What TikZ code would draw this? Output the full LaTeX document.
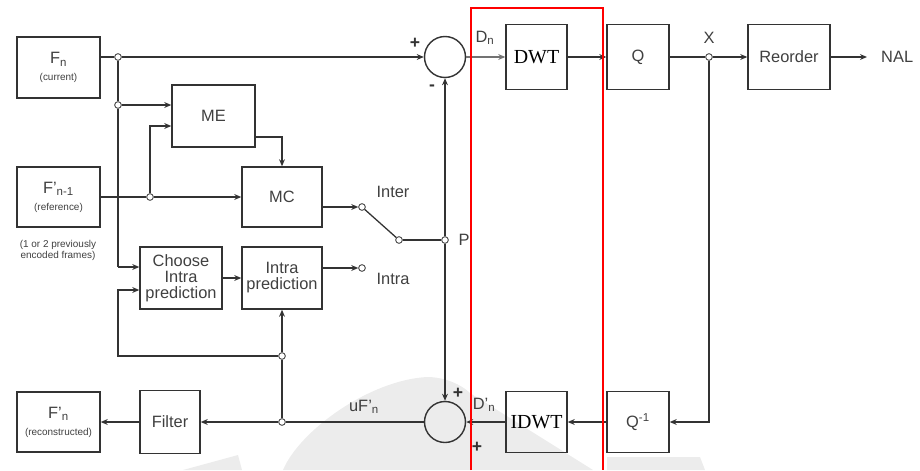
\documentclass[tikz,border=0pt]{standalone}
\usepackage{fontspec}
\setmainfont{Liberation Sans}
\newfontfamily\serifdwt{Liberation Serif}
\usetikzlibrary{arrows.meta}

\newcommand{\notefont}{\fontsize{8.5}{9.5}\selectfont}

\tikzset{
  blk/.style={draw=black!80, line width=1.2pt, inner sep=1pt, align=center, text=black!75},
  sumnode/.style={circle, draw=black!80, line width=1.2pt, minimum size=1.23cm, inner sep=0pt},
  dot/.style={circle, draw=black!80, fill=white, line width=0.7pt, minimum size=0.2cm, inner sep=0pt},
  conn/.style={line width=1.1pt, draw=black!80},
  arr/.style={conn, -{Stealth[length=6pt,width=5pt]}},
  lbl/.style={text=black!75, inner sep=0pt},
  sgn/.style={text=black!80, inner sep=0pt, font=\fontsize{15}{15}\selectfont\bfseries},
}

\begin{document}
\begin{tikzpicture}[x=0.03cm, y=-0.03cm, font=\fontsize{14}{13.6}\selectfont]
\useasboundingbox (0,0) rectangle (920,470);

% watermark in the background
\fill[gray!15] (283,470) .. controls (300,430) and (370,380) .. (427,377)
  .. controls (445,377) and (462,385) .. (470,393) -- (593,470) -- cycle;
\fill[gray!15] (183,470) -- (238,455) -- (242,470) -- cycle;
\fill[gray!15] (607,470) -- (607,457) -- (700,457) -- (705,470) -- cycle;

% ===== Blocks =====
\node[blk, minimum width=2.49cm, minimum height=1.83cm] (fn) at (58.5,67.5) {F\textsubscript{n}\\[1pt]{\notefont (current)}};
\node[blk, minimum width=2.49cm, minimum height=1.86cm] (me) at (213.5,116) {ME};
\node[blk, minimum width=2.49cm, minimum height=1.8cm] (fprev) at (58.5,197) {F'\textsubscript{n-1}\\[1pt]{\notefont (reference)}};
\node[blk, minimum width=2.4cm, minimum height=1.8cm] (mc) at (282,197) {MC};
\node[blk, minimum width=2.46cm, minimum height=1.86cm] (choose) at (181,278) {Choose\\Intra\\prediction};
\node[blk, minimum width=2.4cm, minimum height=1.86cm] (intra) at (282,278) {Intra\\prediction};
\node[blk, minimum width=1.8cm, minimum height=1.89cm] (filter) at (170,422) {Filter};
\node[blk, minimum width=2.49cm, minimum height=1.8cm] (frec) at (58.5,422) {F'\textsubscript{n}\\[1pt]{\notefont (reconstructed)}};

\node[blk, minimum width=1.83cm, minimum height=1.95cm, font=\serifdwt\fontsize{17}{17}\selectfont, text=black] (dwt) at (536.5,57) {DWT};
\node[blk, minimum width=1.86cm, minimum height=1.95cm] (q) at (638,57) {Q};
\node[blk, minimum width=2.46cm, minimum height=1.95cm] (reorder) at (789,57) {Reorder};
\node[lbl, anchor=west, inner xsep=0pt] (nal) at (881,57) {NAL};

\node[blk, minimum width=1.83cm, minimum height=1.83cm, font=\serifdwt\fontsize{17}{17}\selectfont, text=black] (idwt) at (536.5,422) {IDWT};
\node[blk, minimum width=1.86cm, minimum height=1.83cm] (qinv) at (638,422) {Q\textsuperscript{-1}};

\node[sumnode] (sumA) at (445,57) {};
\node[sumnode] (sumB) at (445,422) {};

% ===== Junctions and switch contacts =====
\foreach \nm/\px/\py in {ja/118/57, jb/118/105, jc/150/197, jx/709/57, jp/445/240,
                        jd/282/356, je/282/422, s1/362/207, s2/399/240, s3/362/268}
  \node[dot] (\nm) at (\px,\py) {};
\coordinate (jf) at (118,267);
\coordinate (jg) at (150,126);
\coordinate (jh) at (118,290);
\coordinate (jm) at (282,137);

% ===== Connectors =====
\draw[conn] (fn.east |- ja) -- (ja);
\draw[arr] (ja) -- (sumA);
\draw[conn] (ja) -- (jb);
\draw[arr] (jb) -- (me.west |- jb);
\draw[conn] (jb) -- (jf);
\draw[arr] (jf) -- (choose.west |- jf);
\draw[conn] (fprev) -- (jc);
\draw[arr] (jc) -- (mc);
\draw[arr] (jc) -- (jg) -- (me.west |- jg);
\draw[arr] (me.east |- jm) -| (mc.north);
\draw[arr] (mc.east |- s1) -- (s1);
\draw[conn] (s1) -- (s2);
\draw[conn] (s2) -- (jp);
\draw[arr] (choose) -- (intra);
\draw[arr] (intra.east |- s3) -- (s3);
\draw[arr] (jp) -- (sumA);
\draw[arr] (jp) -- (sumB);

\draw[arr, draw=black!55] (sumA) -- (dwt);
\draw[arr] (dwt) -- (q);
\draw[conn] (q) -- (jx);
\draw[arr] (jx) -- (reorder);
\draw[arr] (reorder) -- ([xshift=-0.42cm]nal.west);
\draw[arr] (jx) |- (qinv);
\draw[arr] (qinv) -- (idwt);
\draw[arr] (idwt) -- (sumB);
\draw[conn] (sumB) -- (je);
\draw[arr] (je) -- (filter);
\draw[arr] (filter) -- (frec);
\draw[conn] (je) -- (jd);
\draw[arr] (jd) -- (intra);
\draw[arr] (jd) -| (jh) -- (choose.west |- jh);

% ===== Labels =====
\node[sgn] (plusA) at (415,43) {+};
\node[sgn] (minusA) at (432,88) {-};
\node[lbl] (dnlab) at (485,38) {D\textsubscript{n}};
\node[lbl] (xlab) at (709,38) {X};
\node[lbl] (interlab) at (393,192) {Inter};
\node[lbl] (plab) at (464,240) {P};
\node[lbl] (intralab) at (393,279) {Intra};
\node[sgn] (plusB) at (458,393) {+};
\node[lbl] (dpnlab) at (484,405) {D'\textsubscript{n}};
\node[sgn] (plusC) at (477,447) {+};
\node[lbl] (ufnlab) at (364,407) {uF'\textsubscript{n}};
\node[lbl, align=center, font=\notefont] (prevnote) at (58,250) {(1 or 2 previously\\encoded frames)};

% ===== Highlight frame =====
\draw[red, line width=1.3pt] (471,470) -- (471,8) -- (603,8) -- (603,470);

\end{tikzpicture}
\end{document}
